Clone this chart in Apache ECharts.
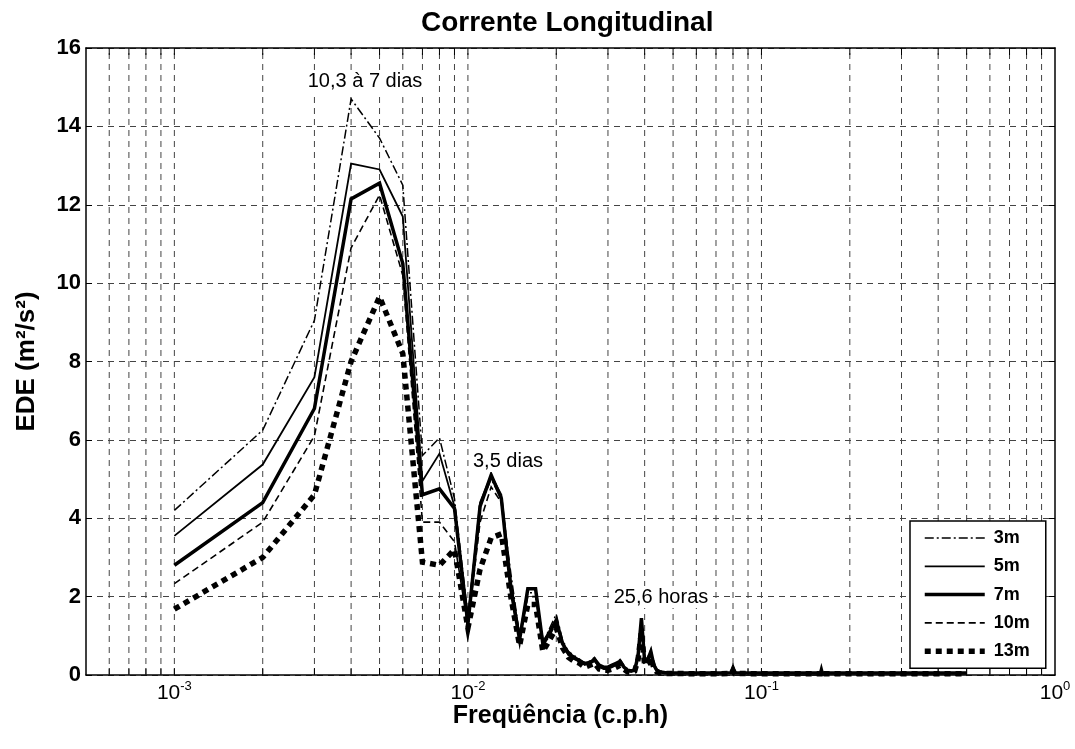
<!DOCTYPE html>
<html><head><meta charset="utf-8">
<script src="https://cdn.jsdelivr.net/npm/echarts@6/dist/echarts.min.js"></script>
<style>html,body{margin:0;padding:0;background:#fff}#c{width:1075px;height:749px}</style>
</head><body><div id="c"></div>
<script>
// Frequencies (c.p.h)
const freq = [
  0.001,0.002,0.003,0.004,0.005,0.006,0.007,0.008,0.009,0.010,
  0.011,0.012,0.013,0.014,0.015,0.016,0.017,0.018,0.019,0.020,
  0.021,0.022,0.023,0.024,0.025,0.026,0.027,0.028,0.029,0.030,
  0.031,0.032,0.033,0.034,0.035,0.036,0.037,0.038,0.039,0.040,
  0.041,0.042,0.043,0.044,0.045,0.046,0.047,0.048,0.049,0.050,
  0.06,0.07,0.079,0.08,0.081,0.1,0.12,0.159,0.16,0.161,0.2,0.3,0.4,0.5
];
const ede3m = [
  4.2,6.25,9.05,14.7,13.7,12.5,5.6,6.05,4.5,1.5,
  4.3,5.0,4.5,2.6,1.0,2.1,2.1,0.8,1.2,1.55,
  0.9,0.6,0.5,0.4,0.3,0.35,0.45,0.25,0.2,0.2,
  0.25,0.3,0.4,0.25,0.15,0.12,0.15,0.6,1.4,0.4,
  0.45,0.65,0.3,0.15,0.1,0.08,0.07,0.07,0.06,0.06,
  0.05,0.05,0.06,0.2,0.06,0.05,0.05,0.05,0.15,0.05,0.05,0.05,0.05,0.05
];
const ede5m = [
  3.55,5.37,7.6,13.05,12.9,11.7,4.95,5.65,4.3,1.4,
  4.4,5.1,4.6,2.4,1.0,2.2,2.2,0.8,1.1,1.4,
  0.85,0.55,0.45,0.4,0.3,0.35,0.4,0.25,0.2,0.2,
  0.25,0.3,0.35,0.2,0.12,0.1,0.15,0.55,1.35,0.35,
  0.4,0.6,0.25,0.12,0.08,0.07,0.06,0.06,0.05,0.05,
  0.05,0.05,0.06,0.18,0.06,0.05,0.05,0.05,0.13,0.05,0.05,0.05,0.05,0.05
];
const ede7m = [
  2.8,4.4,6.8,12.15,12.55,10.5,4.6,4.75,4.25,1.3,
  4.3,5.1,4.5,2.2,0.9,2.2,2.2,0.8,1.1,1.4,
  0.8,0.55,0.45,0.35,0.3,0.3,0.4,0.25,0.2,0.2,
  0.25,0.3,0.35,0.2,0.12,0.1,0.12,0.5,1.45,0.35,
  0.4,0.6,0.25,0.12,0.08,0.07,0.06,0.06,0.05,0.05,
  0.05,0.05,0.06,0.18,0.06,0.05,0.05,0.05,0.13,0.05,0.05,0.05,0.05,0.05
];
const ede10m = [
  2.33,3.9,6.1,10.9,12.25,10.2,3.9,3.9,3.4,1.25,
  3.9,4.8,4.4,2.2,0.9,2.0,2.0,0.75,1.0,1.35,
  0.8,0.5,0.4,0.35,0.25,0.3,0.35,0.2,0.15,0.15,
  0.2,0.25,0.3,0.2,0.1,0.08,0.12,0.45,1.2,0.3,
  0.35,0.5,0.2,0.1,0.07,0.06,0.05,0.05,0.05,0.05,
  0.04,0.04,0.05,0.15,0.05,0.04,0.04,0.04,0.12,0.04,0.04,0.04,0.04,0.04
];
const ede13m = [
  1.68,3.0,4.6,8.0,9.65,8.2,2.88,2.8,3.2,1.2,
  2.7,3.5,3.6,2.0,0.75,1.8,1.8,0.6,0.9,1.2,
  0.7,0.45,0.35,0.3,0.2,0.25,0.3,0.15,0.12,0.12,
  0.15,0.2,0.25,0.15,0.08,0.06,0.1,0.4,1.1,0.25,
  0.3,0.45,0.18,0.08,0.06,0.05,0.04,0.04,0.04,0.04,
  0.03,0.03,0.04,0.12,0.04,0.03,0.03,0.03,0.1,0.03,0.03,0.03,0.03,0.03
];
const seriesNames = ['3m','5m','7m','10m','13m'];
const yTicks = {min: 0, max: 16, step: 2};
const xRange = {min: 0.0005, max: 1};
// log grid lines (2..9 x 10^k)
const gridFreqs = [
  0.0006,0.0007,0.0008,0.0009,
  0.001,0.002,0.003,0.004,0.005,0.006,0.007,0.008,0.009,
  0.01,0.02,0.03,0.04,0.05,0.06,0.07,0.08,0.09,
  0.1,0.2,0.3,0.4,0.5,0.6,0.7,0.8,0.9
];
const annotations = [
  {text: '10,3 à 7 dias', x: 365, y: 81},
  {text: '3,5 dias', x: 508, y: 461},
  {text: '25,6 horas', x: 661, y: 597}
];

const values = [ede3m, ede5m, ede7m, ede10m, ede13m];
const styles = [
  {width: 1.5, type: [9, 3, 2, 3]},
  {width: 1.8, type: 'solid'},
  {width: 3.5, type: 'solid'},
  {width: 1.6, type: [7, 4]},
  {width: 5.5, type: [6, 5]}
];
const FONT = 'Liberation Sans, Arial, sans-serif';
const gridDash = {color: '#444', width: 1, type: [6, 5]};

const chart = echarts.init(document.getElementById('c'), null, {renderer: 'canvas'});
const lineStyleOf = i => ({color: '#000', width: styles[i].width, type: styles[i].type, cap: 'butt', join: 'miter'});
const series = seriesNames.map((name, i) => ({
  name, type: 'line', symbol: 'none', showSymbol: false, z: 5,
  data: freq.map((f, j) => [f, values[i][j]]),
  lineStyle: lineStyleOf(i),
  itemStyle: {color: '#000'},
  animation: false
}));
series.unshift({
  name: 'grid', type: 'custom', z: 1, silent: true, animation: false,
  xAxisIndex: 0, yAxisIndex: 0,
  data: gridFreqs.map(f => [f, yTicks.min]),
  encode: {x: 0, y: 1},
  renderItem: (params, api) => {
    const f = api.value(0);
    const p0 = api.coord([f, yTicks.min]);
    const p1 = api.coord([f, yTicks.max]);
    return {type: 'group', children: [
      {type: 'line', shape: {x1: p0[0], y1: p0[1], x2: p1[0], y2: p1[1]},
       style: {stroke: '#444', lineWidth: 1, lineDash: [6, 5]}},
      {type: 'line', shape: {x1: p0[0], y1: p0[1], x2: p0[0], y2: p0[1] - 7},
       style: {stroke: '#000', lineWidth: 1}},
      {type: 'line', shape: {x1: p1[0], y1: p1[1], x2: p1[0], y2: p1[1] + 7},
       style: {stroke: '#000', lineWidth: 1}}
    ]};
  }
});

chart.setOption({
  backgroundColor: '#fff',
  animation: false,
  title: {
    text: 'Corrente Longitudinal', left: 416, top: 4,
    textStyle: {fontFamily: FONT, fontWeight: 'bold', fontSize: 28, color: '#000'}
  },
  grid: {left: 86, right: 20, top: 48, bottom: 74, containLabel: false},
  legend: {
    data: seriesNames.map((n, i) => ({name: n, lineStyle: lineStyleOf(i), itemStyle: {opacity: 0}})),
    orient: 'vertical', left: 910, top: 521,
    itemWidth: 60, itemHeight: 14, itemGap: 10.3,
    padding: [8, 16, 8, 12],
    itemStyle: {opacity: 0},
    backgroundColor: '#fff', borderColor: '#000', borderWidth: 1.5, borderRadius: 0,
    textStyle: {fontFamily: FONT, fontWeight: 'bold', fontSize: 18, color: '#000', padding: [0, 0, 0, 4]},
    z: 10
  },
  xAxis: [{
    type: 'log', logBase: 10, min: xRange.min, max: xRange.max,
    name: 'Freqüência (c.p.h)', nameLocation: 'middle', nameGap: 29, nameMoveOverlap: false,
    nameTextStyle: {fontFamily: FONT, fontWeight: 'bold', fontSize: 25, color: '#000', padding: [0, 20, 0, 0]},
    axisLine: {show: true, onZero: false, lineStyle: {color: '#000', width: 1.5}},
    axisTick: {show: false},
    splitLine: {show: false},
    axisLabel: {
      margin: 5, color: '#000',
      formatter: v => {
        const l = Math.log10(v); const r = Math.round(l);
        if (Math.abs(l - r) > 1e-6) return '';
        return '{b|10}{s|' + r + '}';
      },
      rich: {
        b: {fontFamily: FONT, fontSize: 21, color: '#000', lineHeight: 24, verticalAlign: 'bottom'},
        s: {fontFamily: FONT, fontSize: 13, color: '#000', lineHeight: 13, verticalAlign: 'top'}
      }
    }
  }, {
    type: 'log', logBase: 10, min: xRange.min, max: xRange.max, position: 'top',
    axisLine: {show: true, onZero: false, lineStyle: {color: '#000', width: 1.5}},
    axisTick: {show: false}, axisLabel: {show: false}, splitLine: {show: false}
  }],
  yAxis: [{
    type: 'value', min: yTicks.min, max: yTicks.max, interval: yTicks.step,
    name: 'EDE (m²/s²)', nameLocation: 'middle', nameGap: 46,
    nameTextStyle: {fontFamily: FONT, fontWeight: 'bold', fontSize: 26, color: '#000'},
    axisLine: {show: true, lineStyle: {color: '#000', width: 1.5}},
    axisTick: {show: true, inside: true, length: 6, lineStyle: {color: '#000'}},
    axisLabel: {fontFamily: FONT, fontWeight: 'bold', fontSize: 22, color: '#000', margin: 5},
    splitLine: {show: true, lineStyle: gridDash}
  }, {
    type: 'value', min: yTicks.min, max: yTicks.max, interval: yTicks.step, position: 'right',
    axisLine: {show: true, lineStyle: {color: '#000', width: 1.5}},
    axisTick: {show: true, inside: true, length: 6, lineStyle: {color: '#000'}},
    axisLabel: {show: false}, splitLine: {show: false}
  }],
  series,
  graphic: annotations.map(a => ({
    type: 'text', x: a.x, y: a.y, z: 8,
    style: {
      text: a.text, fill: '#000', font: '20px ' + FONT,
      align: 'center', verticalAlign: 'middle',
      backgroundColor: '#fff', padding: [1, 2]
    }
  }))
});
</script>
</body></html>
